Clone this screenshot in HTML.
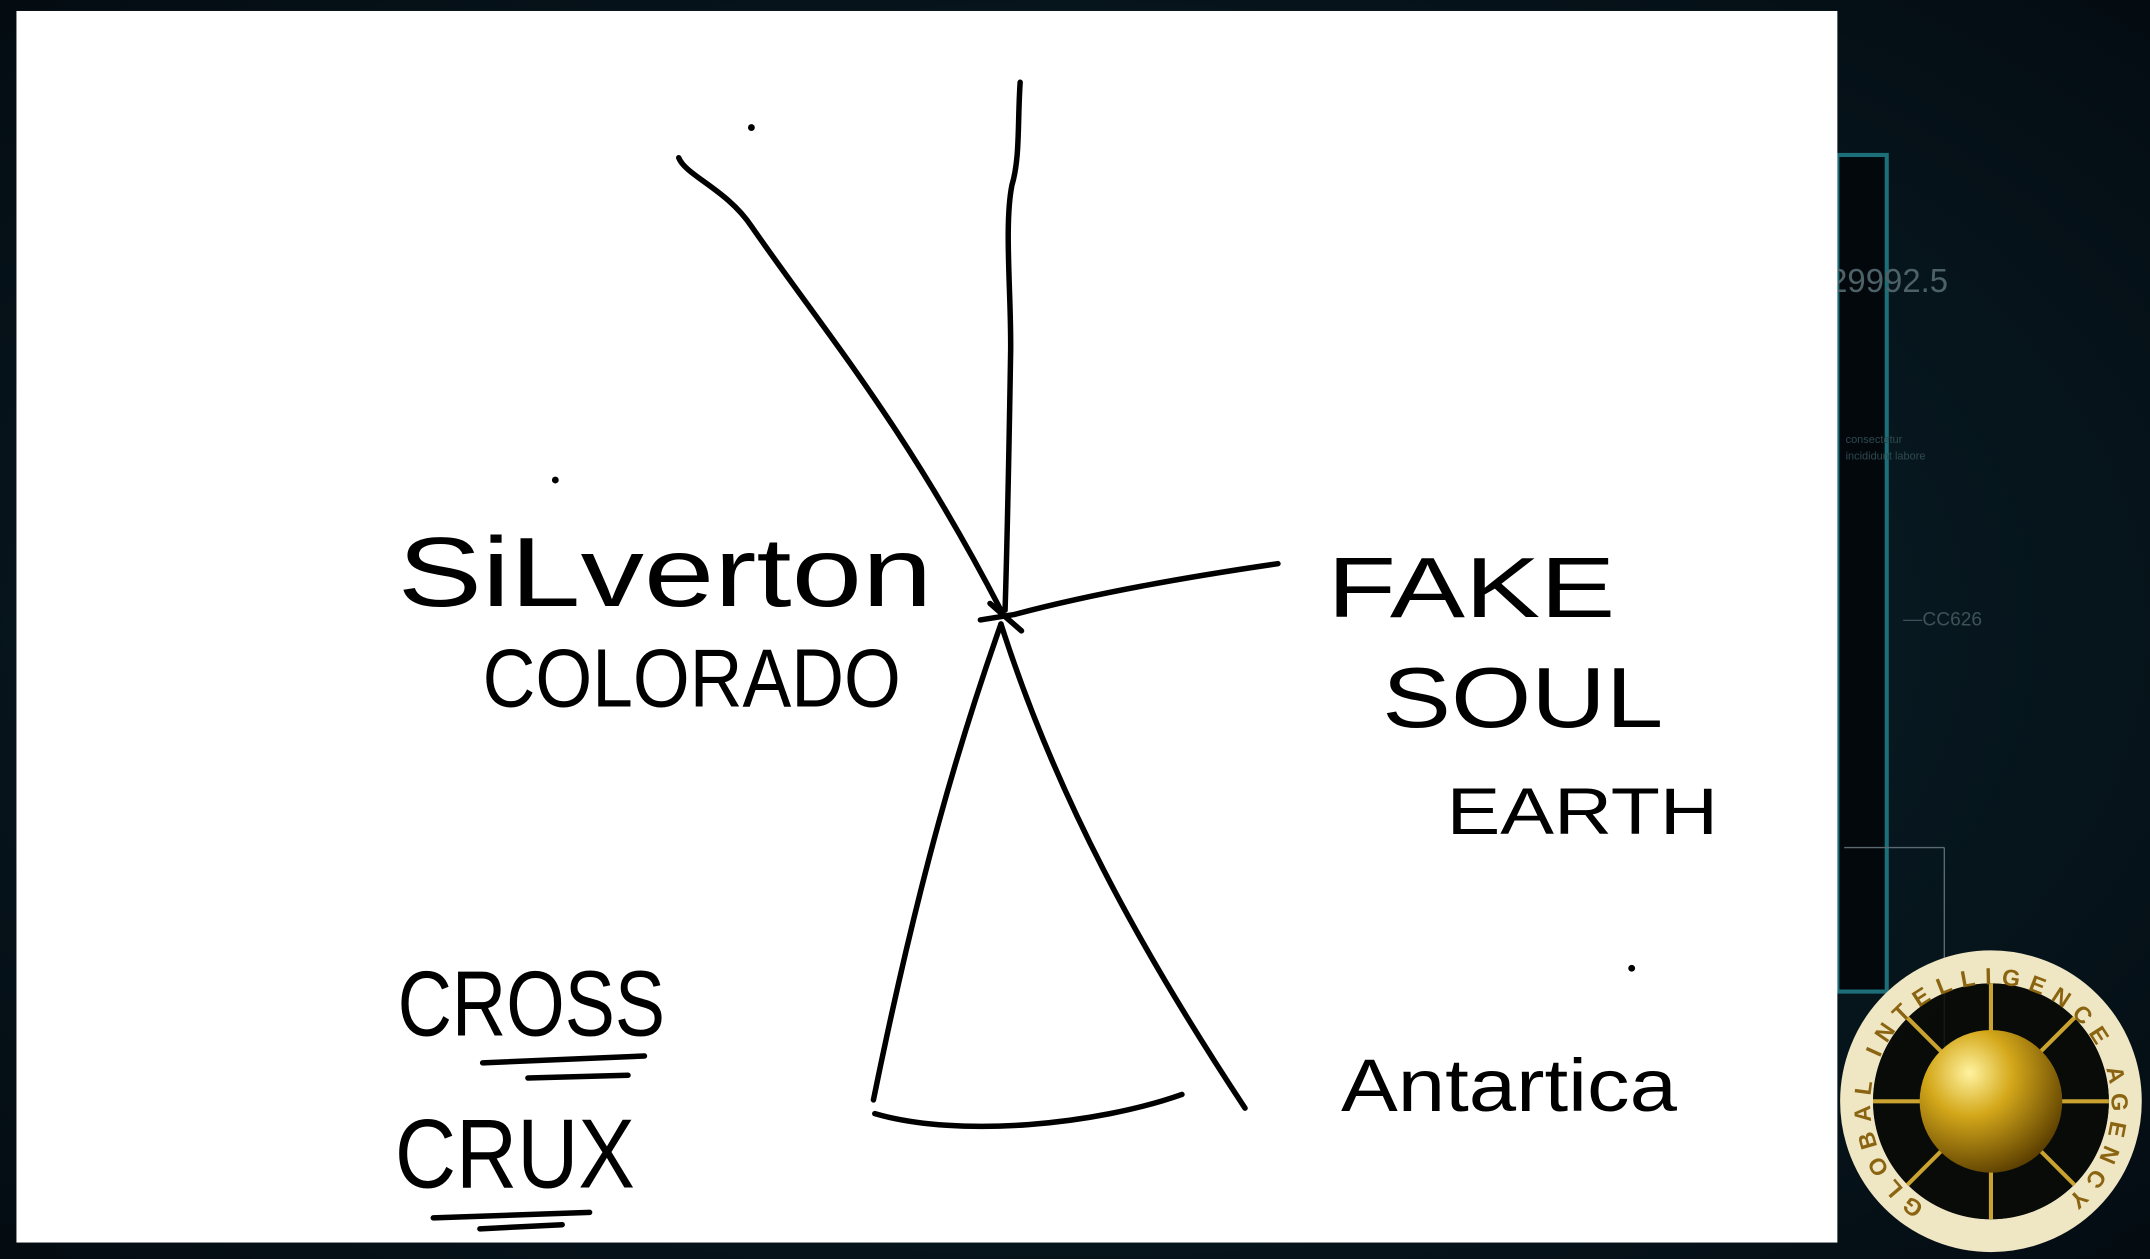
<!DOCTYPE html>
<html><head><meta charset="utf-8"><style>
html,body{margin:0;padding:0;background:#061219;overflow:hidden}
svg{display:block}
.hw{font-family:"Liberation Sans",sans-serif;fill:#000;stroke:none;font-weight:normal}
.ln{fill:none;stroke:#000;stroke-width:4;stroke-linecap:round;stroke-linejoin:round}
</style></head><body>
<svg width="2150" height="1259" viewBox="0 0 1568 918" preserveAspectRatio="none">
<defs>
<radialGradient id="bg" cx="0.5" cy="0.5" r="0.7"><stop offset="0" stop-color="#0b2630"/><stop offset="1" stop-color="#040c12"/></radialGradient>
<radialGradient id="gold" cx="0.35" cy="0.3" r="0.75"><stop offset="0" stop-color="#fff3a0"/><stop offset="0.4" stop-color="#d4a81a"/><stop offset="1" stop-color="#5a3d00"/></radialGradient>
</defs>
<rect x="0" y="0" width="1568" height="918" fill="url(#bg)"/>
<g>
<rect x="1340" y="113" width="36" height="610" fill="#02080c" stroke="#1c6f78" stroke-width="3"/>
<text x="1334" y="213" font-family="Liberation Sans,sans-serif" font-size="24" fill="#4d6268">29992.5</text>
<text x="1388" y="456" font-family="Liberation Sans,sans-serif" font-size="14" fill="#3d5258">—CC626</text>
<text x="1346" y="323" font-family="Liberation Sans,sans-serif" font-size="8" fill="#2e4a50">consectetur</text>
<text x="1346" y="335" font-family="Liberation Sans,sans-serif" font-size="8" fill="#2e4a50">incididunt labore</text>
<line x1="1345" y1="618" x2="1418" y2="618" stroke="#5a6a70" stroke-width="1"/>
<line x1="1418" y1="618" x2="1418" y2="840" stroke="#5a6a70" stroke-width="1"/>
</g>
<rect x="12" y="8" width="1328" height="898" fill="#fff"/>
<g>
<path class="ln" d="M744 60 C742 90 744 115 738 135 C732 165 738 220 737 260 C736 320 735 380 733 445"/>
<path class="ln" d="M495 115 C500 128 530 138 548 165 C600 240 660 310 730 445"/>
<path class="ln" d="M932 411 C870 420 800 432 740 448 L715 452 M722 440 L745 460"/>
<path class="ln" d="M730 455 C700 540 670 640 637 802"/>
<path class="ln" d="M730 455 C770 580 830 690 908 808"/>
<path class="ln" d="M638 812 C700 830 800 820 862 798"/>
<circle cx="548" cy="93" r="2.5" fill="#000"/>
<circle cx="405" cy="350" r="2.5" fill="#000"/>
<circle cx="1190" cy="706" r="2.5" fill="#000"/>
<path class="ln" d="M352 775 L470 770 M385 786 L458 784 M316 888 L430 884 M350 896 L410 893"/>
</g>
<text class="hw" x="290" y="442" font-size="72" textLength="390" lengthAdjust="spacingAndGlyphs">SiLverton</text>
<text class="hw" x="352" y="515" font-size="60" textLength="305" lengthAdjust="spacingAndGlyphs">COLORADO</text>
<text class="hw" x="968" y="450" font-size="62" textLength="210" lengthAdjust="spacingAndGlyphs">FAKE</text>
<text class="hw" x="1008" y="530" font-size="62" textLength="205" lengthAdjust="spacingAndGlyphs">SOUL</text>
<text class="hw" x="1055" y="608" font-size="48" textLength="198" lengthAdjust="spacingAndGlyphs">EARTH</text>
<text class="hw" x="290" y="755" font-size="68" textLength="195" lengthAdjust="spacingAndGlyphs">CROSS</text>
<text class="hw" x="288" y="866" font-size="72" textLength="175" lengthAdjust="spacingAndGlyphs">CRUX</text>
<text class="hw" x="978" y="810" font-size="54" textLength="245" lengthAdjust="spacingAndGlyphs">Antartica</text>
<g>
<circle cx="1452" cy="803" r="98" fill="none" stroke="#efe6c4" stroke-width="24"/>
<circle cx="1452" cy="803" r="86" fill="#0a0a06" opacity="0.85"/>
<g stroke="#c9a230" stroke-width="3">
<line x1="1452" y1="717" x2="1452" y2="889"/><line x1="1366" y1="803" x2="1538" y2="803"/>
<line x1="1391" y1="742" x2="1513" y2="864"/><line x1="1513" y1="742" x2="1391" y2="864"/>
</g>
<circle cx="1452" cy="803" r="52" fill="url(#gold)"/>
<path id="arc" d="M1400 884 A94 94 0 1 1 1504 884" fill="none"/>
<text font-family="Liberation Sans,sans-serif" font-size="17" fill="#8a6410" font-weight="bold" dy="6"><textPath href="#arc" textLength="470" lengthAdjust="spacing">GLOBAL INTELLIGENCE AGENCY</textPath></text>
</g>
</svg>
</body></html>
